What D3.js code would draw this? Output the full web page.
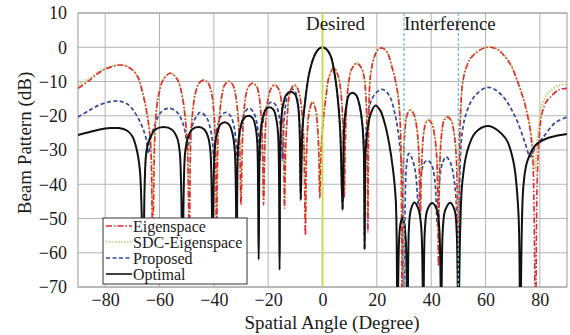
<!DOCTYPE html>
<html>
<head>
<meta charset="utf-8">
<script src="https://cdn.jsdelivr.net/npm/d3@7"></script>
<style>
  body { margin: 0; background: #fff; }
  svg { display: block; font-family: "Liberation Serif", "Times New Roman", serif; }
</style>
</head>
<body>
<script>
// Achsen
const xTicks = [-80, -60, -40, -20, 0, 20, 40, 60, 80];
const yTicks = [10, 0, -10, -20, -30, -40, -50, -60, -70];

// Markierungen
const desiredAngle = 0;
const interferenceAngles = [30, 50];

// Kurven: [Winkel, dB]
const eigenspace = [
  [-90,-12],[-86,-9.8],[-82,-7.3],[-78,-5.8],[-74,-5.2],[-70.5,-6.3],[-68,-8.7],[-66.3,-13],[-64.5,-20],[-63.3,-28],[-62.5,-58],
  [-61.8,-28],[-61.2,-19],[-60.2,-13.5],[-58.6,-9.5],[-56,-7.6],[-53.4,-9.5],[-51.7,-14],[-50.5,-21],[-49.7,-30],[-49,-58],
  [-48.5,-27],[-47.8,-19],[-46.8,-13.5],[-45.5,-10.6],[-43.7,-9.6],[-42,-10.6],[-40.8,-13.5],[-39.9,-20],[-39.4,-29],[-39,-58],
  [-38.5,-28],[-37.9,-20],[-37,-14],[-36,-11],[-34.5,-10],[-33,-11],[-32,-14],[-31.1,-20],[-30.5,-28],[-30,-46],
  [-29.5,-28],[-29,-20],[-28.2,-14],[-27.2,-11.5],[-25.7,-10.5],[-24.2,-11.5],[-23.3,-14.5],[-22.6,-20],[-22.1,-28],[-21.7,-46],
  [-21.2,-28],[-20.7,-20],[-19.9,-14.5],[-18.9,-12],[-17.6,-11],[-16.3,-12],[-15.4,-14.5],[-14.7,-20.5],[-14.3,-28],[-14,-47],
  [-13.5,-28],[-13,-20.5],[-12.3,-14.5],[-11.4,-12],[-10.3,-11],[-9.2,-12],[-8.3,-14.5],[-7.4,-20.5],[-6.8,-30],[-6.3,-55],
  [-5.9,-32],[-5.5,-24],[-4.9,-19],[-3.7,-16],[-2.6,-18],[-1.9,-22.5],[-1.4,-30],[-1,-44],
  [-0.5,-30],[0.2,-22],[1.2,-15],[2.4,-8.7],[4.2,-6],[5.8,-8.5],[6.7,-12.5],[7.3,-19],[7.7,-28],[8,-44],
  [8.4,-28],[8.9,-17],[9.6,-10.5],[10.7,-6.5],[12.6,-4.7],[14.3,-6],[15.3,-8.7],[16,-15],[16.4,-25],[16.7,-54],
  [17.1,-18],[17.7,-8],[19.1,-2.8],[20.5,-0.6],[22,-0.2],[23.8,-1.5],[25.6,-5.8],[27.5,-12.5],[28.6,-22],[29.3,-80],
  [29.8,-34],[30.4,-24],[31.2,-19.6],[32.4,-18.4],[33.6,-19.6],[34.6,-23],[35.4,-30],[36,-50],
  [36.5,-34],[37.2,-25.5],[38,-22.2],[39,-21.3],[40.2,-22.2],[41.2,-25.5],[42.1,-33],[42.7,-64],
  [43.2,-34],[43.9,-25],[44.8,-21.3],[46,-20.4],[47.3,-21.3],[48.4,-25],[49.3,-33],[50,-80],
  [50.3,-40],[50.7,-22],[51.5,-11],[52.6,-6.7],[54.3,-3.5],[56.3,-1.8],[59,-0.4],[61.8,0],[64.5,-0.7],[67.3,-2.9],
  [69.5,-5.5],[71.6,-9.6],[73.5,-14],[75.3,-19.3],[76.5,-24.5],[77.4,-32],[78.4,-80],
  [79,-40],[79.8,-26],[80.8,-19.3],[82.2,-16.2],[83.8,-14.6],[86.8,-12.5],[90,-12]
];

const sdcEigenspace = [
  [-90,-11],[-86,-9.2],[-82,-7],[-78,-5.6],[-74,-5.1],[-70.5,-6.2],[-68,-8.6],[-66.3,-12.8],[-64.5,-19.5],[-63.3,-27],[-62.6,-48],
  [-61.9,-27],[-61.2,-18.5],[-60.2,-13.3],[-58.6,-9.4],[-56,-7.5],[-53.4,-9.4],[-51.7,-13.8],[-50.5,-20.5],[-49.7,-29],[-49.1,-48],
  [-48.5,-26],[-47.8,-18.7],[-46.8,-13.3],[-45.5,-10.5],[-43.7,-9.5],[-42,-10.5],[-40.8,-13.3],[-39.9,-19.7],[-39.4,-28],[-39,-50],
  [-38.5,-27],[-37.9,-19.8],[-37,-13.8],[-36,-10.9],[-34.5,-9.9],[-33,-10.9],[-32,-13.8],[-31.1,-19.8],[-30.5,-27.5],[-30,-44],
  [-29.5,-27.5],[-29,-19.8],[-28.2,-13.8],[-27.2,-11.4],[-25.7,-10.4],[-24.2,-11.4],[-23.3,-14.3],[-22.6,-19.8],[-22.1,-27.5],[-21.7,-44],
  [-21.2,-27.5],[-20.7,-19.8],[-19.9,-14.3],[-18.9,-11.9],[-17.6,-10.9],[-16.3,-11.9],[-15.4,-14.3],[-14.7,-20.3],[-14.3,-27.5],[-14,-45],
  [-13.5,-27.5],[-13,-20.3],[-12.3,-14.3],[-11.4,-11.9],[-10.3,-10.9],[-9.2,-11.9],[-8.3,-14.3],[-7.4,-20.3],[-6.8,-29],[-6.3,-50],
  [-5.9,-31],[-5.5,-23.5],[-4.9,-18.7],[-3.7,-15.8],[-2.6,-17.8],[-1.9,-22.2],[-1.4,-29],[-1,-42],
  [-0.5,-29],[0.2,-21.5],[1.2,-14.8],[2.4,-8.6],[4.2,-5.9],[5.8,-8.4],[6.7,-12.3],[7.3,-18.7],[7.7,-27],[8,-42],
  [8.4,-27],[8.9,-16.8],[9.6,-10.4],[10.7,-6.4],[12.6,-4.6],[14.3,-5.9],[15.3,-8.6],[16,-14.8],[16.4,-24],[16.7,-50],
  [17.1,-17.5],[17.7,-7.9],[19.1,-2.7],[20.5,-0.5],[22,-0.1],[23.8,-1.4],[25.6,-5.7],[27.5,-12.3],[28.6,-21.5],[29.3,-80],
  [29.8,-33],[30.4,-23.5],[31.2,-19.3],[32.4,-18.1],[33.6,-19.3],[34.6,-22.7],[35.4,-29.5],[36,-48],
  [36.5,-33],[37.2,-25.2],[38,-21.9],[39,-21],[40.2,-21.9],[41.2,-25.2],[42.1,-32.5],[42.7,-55],
  [43.2,-33],[43.9,-24.7],[44.8,-21],[46,-20.1],[47.3,-21],[48.4,-24.7],[49.3,-32.5],[50,-80],
  [50.3,-39],[50.7,-21.5],[51.5,-10.8],[52.6,-6.5],[54.3,-3.3],[56.3,-1.6],[59,-0.3],[61.8,0.1],[64.5,-0.6],[67.3,-2.7],
  [69.5,-5.2],[71.6,-9.2],[73.5,-13.5],[75.3,-18.7],[76.5,-23.5],[77.4,-29],[78.2,-36],
  [79,-28],[79.8,-21.5],[80.8,-16.8],[82.2,-14.3],[83.8,-12.8],[86.8,-11.2],[90,-10.8]
];

const proposed = [
  [-90,-20.4],[-86,-18.5],[-82,-16.8],[-78,-15.9],[-75,-15.7],[-72,-16.5],[-70,-18],[-68,-20.5],[-66.3,-23.3],[-65,-26.5],[-64,-31],
  [-63,-26],[-61.4,-22],[-59.5,-19],[-56.6,-17.8],[-53.5,-19],[-51.5,-22],[-50.3,-26],[-49.6,-30],
  [-48.8,-26],[-47.3,-21.5],[-45,-19],[-42.7,-20.5],[-41.2,-24],[-40.4,-28.5],[-40,-33],
  [-39.5,-28],[-38.6,-23],[-37.3,-20],[-35.6,-19],[-33.9,-20],[-32.6,-23],[-31.8,-28],[-31.3,-33],
  [-30.7,-27.5],[-29.8,-22],[-28.6,-19],[-27,-17.8],[-25.4,-19],[-24.2,-22],[-23.4,-27.5],[-23,-33],
  [-22.5,-26],[-21.6,-20.5],[-20.3,-17],[-18.7,-16],[-17.1,-17],[-15.9,-20.5],[-15.1,-26],[-14.7,-33],
  [-14.2,-22],[-13.4,-16],[-12.4,-13],[-11.2,-12.2],[-10,-13],[-9.1,-16],[-8.5,-22],[-8,-44.6],
  [-7.4,-24],[-6.7,-18],[-5,-8],[-3,-2.5],[-1.5,-0.6],[0,0],[1.5,-0.6],[3,-2.5],[4.3,-7],[5.5,-14],[6.5,-24],[7.4,-47.5],
  [8,-23],[8.8,-17],[9.7,-14],[11,-13.3],[12.4,-14],[13.5,-16.5],[14.6,-22],[15.2,-30],[15.5,-59],
  [15.9,-26],[16.5,-20.5],[17.5,-16.5],[19.5,-13.5],[22,-12.3],[24.5,-14],[26.8,-20],[28.2,-27],[29.3,-38],[30,-80],
  [30.5,-42],[31,-34],[31.8,-31],[33,-32.5],[34.3,-37],[35.3,-46],
  [36.2,-38],[37.3,-34],[38.6,-33],[40,-34],[41.3,-38.5],[42.3,-52],
  [43.2,-38],[44.3,-33.5],[45.5,-32],[47,-33.5],[48.5,-39],[49.4,-48],[50,-80],
  [50.5,-40],[51.4,-25],[53.3,-18.4],[56.3,-14],[61,-11.7],[66,-14],[71,-20.4],[74.6,-28],[76.5,-32],
  [78.5,-29],[81,-26.5],[85.7,-22],[90,-20.4]
];

const optimal = [
  [-90,-25.6],[-86,-24.8],[-82,-24.0],[-78,-23.6],[-75,-23.6],[-72,-24.3],[-70,-26],[-68.5,-29.5],[-67.2,-36],[-66,-62],
  [-64.9,-31],[-63.5,-26.5],[-61.5,-24],[-58.5,-23.3],[-55.5,-24],[-53.5,-26.5],[-52.5,-31],[-51.5,-62],
  [-50.6,-31],[-49.5,-26.3],[-48,-24],[-45.6,-23.3],[-43.5,-24],[-42,-26.5],[-41.2,-31],[-40.4,-62],
  [-39.7,-30],[-38.8,-25],[-37.6,-22.6],[-36,-21.9],[-34.4,-22.6],[-33.2,-25],[-32.3,-30],[-31.6,-60],
  [-31,-28],[-30.2,-23.5],[-29,-20.8],[-27.2,-20],[-25.6,-20.8],[-24.6,-23.5],[-24,-28],[-23.5,-62],
  [-22.9,-25.5],[-22.1,-21],[-21,-18.3],[-19.5,-17.5],[-18,-18.3],[-17,-21],[-16.3,-26],[-15.8,-65],
  [-15.2,-21],[-14.4,-16.5],[-13.3,-13.8],[-11.7,-13],[-10.1,-13.8],[-9.1,-16.5],[-8.5,-22],[-8,-44.6],
  [-7.4,-24],[-6.7,-18],[-5,-8],[-3,-2.5],[-1.5,-0.6],[0,0],[1.5,-0.6],[3,-2.5],[4.3,-7],[5.5,-14],[6.5,-24],[7.4,-47.5],
  [8,-23],[8.8,-17],[9.7,-14],[11,-13.3],[12.4,-14],[13.5,-16.5],[14.6,-22],[15.2,-30],[15.5,-59],
  [15.9,-30],[16.6,-24],[17.7,-19.5],[19.5,-17],[21.3,-18.5],[23,-22.5],[24.5,-28],[26,-36],[27,-45],[27.6,-80],
  [28.2,-56],[28.7,-51.5],[29.4,-49.8],[30.1,-51.5],[30.7,-57],[31.3,-80],
  [31.8,-53],[32.5,-47.5],[33.8,-45.3],[35.2,-47],[36.3,-52],[37.1,-80],
  [37.7,-53],[38.6,-47.5],[40.4,-45.5],[42.1,-47.5],[43,-53],[43.7,-80],
  [44.3,-53],[45.2,-47.5],[47,-45.4],[48.6,-47.5],[49.4,-54],[50,-80],
  [50.7,-52.8],[51.4,-40],[53.2,-30.6],[56.2,-25],[61,-23],[67.3,-26.5],[70.3,-33.5],[72.1,-48],[72.8,-80],
  [73.9,-41],[75.3,-33.5],[78.4,-28.6],[83,-26.5],[89.3,-25.4],[90,-25.3]
];

const seriesNames = ["Eigenspace", "SDC-Eigenspace", "Proposed", "Optimal"];

const width = 570;
const height = 335;

const x = d3.scaleLinear().domain([-90, 90]).range([78, 567]);
const y = d3.scaleLinear().domain([-70, 10]).range([287, 13]);

const svg = d3.select("body").append("svg")
    .attr("width", width)
    .attr("height", height)
    .attr("viewBox", [0, 0, width, height]);

// Gitter
svg.append("g")
    .attr("stroke", "#b4b4b4")
    .attr("stroke-width", 1)
    .selectAll("line")
    .data(yTicks)
    .join("line")
    .attr("x1", x(-90)).attr("x2", x(90))
    .attr("y1", d => y(d)).attr("y2", d => y(d));

svg.append("g")
    .attr("stroke", "#b4b4b4")
    .attr("stroke-width", 1)
    .selectAll("line")
    .data(xTicks)
    .join("line")
    .attr("x1", d => x(d)).attr("x2", d => x(d))
    .attr("y1", y(10)).attr("y2", y(-70));

svg.append("rect")
    .attr("x", x(-90)).attr("y", y(10))
    .attr("width", x(90) - x(-90)).attr("height", y(-70) - y(10))
    .attr("fill", "none")
    .attr("stroke", "#9a9a9a");

// Achsenbeschriftung
const xAxis = svg.append("g")
    .attr("transform", `translate(0,${y(-70)})`)
    .call(d3.axisBottom(x).tickValues(xTicks).tickSize(0).tickPadding(6));
const yAxis = svg.append("g")
    .attr("transform", `translate(${x(-90)},0)`)
    .call(d3.axisLeft(y).tickValues(yTicks).tickSize(0).tickPadding(11));
[xAxis, yAxis].forEach(a => {
  a.select(".domain").remove();
  a.selectAll("text")
      .attr("font-family", "Liberation Serif, serif")
      .attr("font-size", 18)
      .attr("fill", "#1a1a1a");
});

svg.append("text")
    .attr("x", 332).attr("y", 329)
    .attr("text-anchor", "middle")
    .attr("font-size", 19)
    .attr("fill", "#1a1a1a")
    .text("Spatial Angle (Degree)");

svg.append("text")
    .attr("transform", "translate(31,143) rotate(-90)")
    .attr("text-anchor", "middle")
    .attr("font-size", 19)
    .attr("fill", "#1a1a1a")
    .text("Beam Pattern (dB)");

// Kurven
svg.append("clipPath").attr("id", "plot")
  .append("rect")
    .attr("x", x(-90)).attr("y", y(10))
    .attr("width", x(90) - x(-90)).attr("height", y(-70) - y(10));

const line = d3.line()
    .x(d => x(d[0]))
    .y(d => y(d[1]))
    .curve(d3.curveCatmullRom.alpha(0.5));

const styles = {
  eigenspace: { data: eigenspace, color: "#de2a32", width: 1.6, dash: "6,2,1.5,2" },
  sdc: { data: sdcEigenspace, color: "#c3cb6a", width: 2, dash: "1.5,1.5" },
  proposed: { data: proposed, color: "#33479a", width: 1.7, dash: "4,2.5" },
  optimal: { data: optimal, color: "#111", width: 2, dash: null }
};
const legendStyles = [styles.eigenspace, styles.sdc, styles.proposed, styles.optimal];
const drawOrder = [styles.proposed, styles.sdc, styles.eigenspace, styles.optimal];

const curves = svg.append("g").attr("clip-path", "url(#plot)");
curves.selectAll("path")
    .data(drawOrder)
    .join("path")
    .attr("fill", "none")
    .attr("stroke", d => d.color)
    .attr("stroke-width", d => d.width)
    .attr("stroke-dasharray", d => d.dash)
    .attr("d", d => line(d.data));

// Richtungen
svg.append("line")
    .attr("x1", x(desiredAngle)).attr("x2", x(desiredAngle))
    .attr("y1", y(10)).attr("y2", y(-70))
    .attr("stroke", "#c6da3e")
    .attr("stroke-width", 1.8);

svg.append("g")
    .selectAll("line")
    .data(interferenceAngles)
    .join("line")
    .attr("x1", d => x(d)).attr("x2", d => x(d))
    .attr("y1", y(10)).attr("y2", y(-70))
    .attr("stroke", "#6ec3d2")
    .attr("stroke-width", 1.3)
    .attr("stroke-dasharray", "3,2");

svg.append("text")
    .attr("x", x(desiredAngle) + 13).attr("y", 30)
    .attr("text-anchor", "middle")
    .attr("font-size", 19)
    .attr("fill", "#1a1a1a")
    .text("Desired");

svg.append("text")
    .attr("x", x(interferenceAngles[0])).attr("y", 30)
    .attr("font-size", 19)
    .attr("fill", "#1a1a1a")
    .text("Interference");

// Legende
const legend = svg.append("g").attr("transform", "translate(103,218)");
legend.append("rect")
    .attr("width", 144).attr("height", 66)
    .attr("fill", "#fff")
    .attr("stroke", "#333");

const items = legend.selectAll("g.item")
    .data(seriesNames)
    .join("g")
    .attr("class", "item")
    .attr("transform", (d, i) => `translate(0,${8 + i * 16})`);

items.append("line")
    .attr("x1", 3).attr("x2", 29)
    .attr("stroke", (d, i) => legendStyles[i].color)
    .attr("stroke-width", (d, i) => Math.min(legendStyles[i].width, 1.6))
    .attr("stroke-dasharray", (d, i) => legendStyles[i].dash);

items.append("text")
    .attr("x", 30)
    .attr("dy", "0.35em")
    .attr("font-size", 16)
    .attr("fill", "#1a1a1a")
    .text(d => d);
</script>
</body>
</html>
